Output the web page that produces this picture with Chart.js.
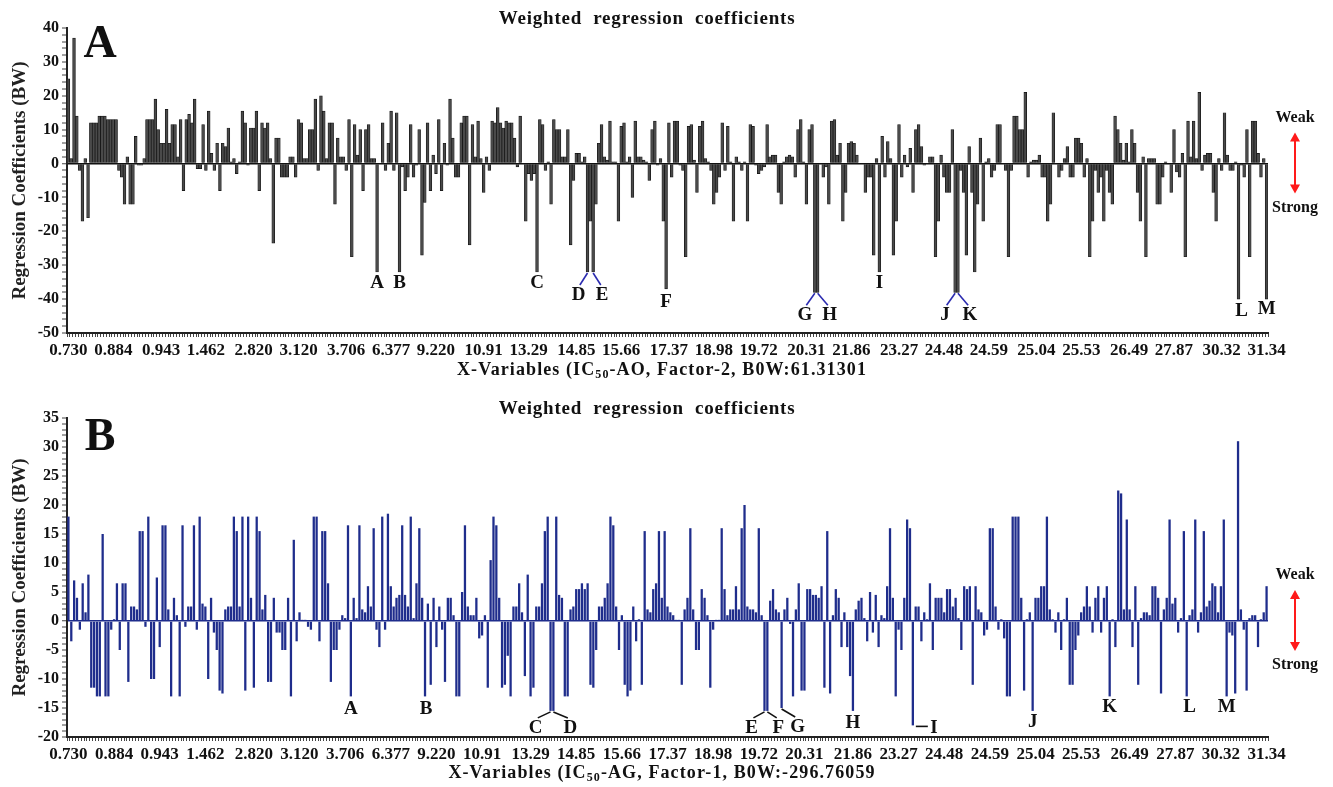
<!DOCTYPE html>
<html>
<head>
<meta charset="utf-8">
<script src="https://cdn.jsdelivr.net/npm/chart.js@4.4.1/dist/chart.umd.min.js"></script>
<style>
    body { margin: 0; background: #fff; }
    #wrapA { position: absolute; left: 0; top: 0; width: 1333px; height: 390px; }
    #wrapB { position: absolute; left: 0; top: 390px; width: 1333px; height: 397px; }
</style>
</head>
<body>
<div id="wrapA"><canvas id="chartA" width="1333" height="390"></canvas></div>
<div id="wrapB"><canvas id="chartB" width="1333" height="397"></canvas></div>
<script>
// x tick labels (same for both panels)
const tickLabels = ['0.730', '0.884', '0.943', '1.462', '2.820', '3.120', '3.706', '6.377', '9.220', '10.91',
    '13.29', '14.85', '15.66', '17.37', '18.98', '19.72', '20.31', '21.86', '23.27', '24.48',
    '24.59', '25.04', '25.53', '26.49', '27.87', '30.32', '31.34'];

// A: IC50-AO, factor 2 (left to right)
const valuesA = [
    25, 1.5, 37, 14, -2, -17, 1.5, -16, 12, 12,
    12, 14, 14, 14, 13, 13, 13, 13, -2, -4,
    -12, 2, -12, -12, 8, -0.5, -0.5, 1.5, 13, 13,
    13, 19, 10, 6, 6, 16, 6, 11.5, 11.5, 2,
    13, -8, 13, 14.5, 12, 19, -1.5, -1.5, 11.5, -2,
    15.5, 3, -2, 6, -8, 6, 5, 10.5, 0.5, 1.5,
    -3, 0.5, 15.5, 12, -0.5, 10.5, 10.5, 15.5, -8, 12,
    10.5, 12, 1.5, -23.5, 7.5, 7.5, -4, -4, -4, 2,
    2, -4, 13, 12, 1.5, 1.5, 10, 10, 19, -2,
    20, 15.5, 1.5, 12, 12, -12, 7.5, 2, 2, -2,
    13, -27.5, 11.5, 2.5, 10, -8, 10, 11.5, 1.5, 1.5,
    -32, 0, 12, -2, 6, 15.5, -2, 15, -32, -1,
    -8, -4, 11.5, -4, -0.5, 10, -27, -11.5, 12, -8,
    2.5, -3, 13, -8, 6, -0.5, 19, 7.5,
    -4, -4, 12, 14, 14, -24, 11.5, 2, 12.5, 1.5,
    -8.5, 2, -2, 12.5, 12, 16.5, 12, 10.5, 12.5, 12,
    12, 7.5, -1, 14, 0, -17, -3, -5, -3, -32,
    13, 11.5, -2, 0.5, -12, 13, 10, 10, 2, 2,
    10, -24, -5, 3, 3, 0.5, 2, -32, -17, -32,
    -12, 6, 11.5, 2, 1, 12.5, 0.5, 0.5, -17, 11,
    12, 0.5, 2, -10, 12.5, 2, 2, 1, 0.5, -5,
    10, 12.5, -0.5, 1.5, -17, -37, 12, -4, 12.5, 12.5,
    -0.5, -2, -27.5, 11, 11.5, 1, -8.5, 11, 12.5, 1.5,
    0.5, -2, -12, -8.5, -4, 12, -2, 11, 0.5, -17,
    2, 0.5, -2, 0.5, -17, 11.5, 11, -0.5, -3, -2,
    -1, 11.5, 2, 2.5, 2.5, -8.5, -12, 0.5, 2, 2.5,
    2, -4, 10, 13, 0.5, -12, 10, 11.5, -38, -38,
    0, -4, -1, -12, 12.5, 13, 2.5, 6, -17, -8.5,
    6, 6.5, 6, 2.5, 0, 0, -8.5, -4, -4, -27,
    1.5, -32, 8, -4, 6.5, 1.5, -27, -17, 11.5,
    -4, 2.5, -1, 4.5, -8.5, 10, 11.5, 5, -0.5, 0,
    2, 2, -27.5, -17, 2.5, -4, -8.5, -8.5, 10, -38,
    -38, -2, -8.5, -27, 5, -8.5, -32, -12, 7.5, -17,
    0.5, 1.5, -4, -2, 11.5, 11.5, 0, -2, -27.5, -2,
    14, 14, 10, 10, 21, -4, 0.5, 1, 1, 2.5,
    -4, -4, -17, -12, 15, 0, -4, -2, 1.5, 5,
    -4, -4, 7.5, 7.5, 6, -4, 1.5, -27.5, -17, -2,
    -8.5, -4, -17, -2, -8.5, -12, 14, 10, 6, 1,
    6, 0.5, 10, 6, -8.5, -17, 2, -27.5, 1.5, 1.5,
    1.5, -12, -12, -4, 0.5, 0, -8.5, 10, -2.5, -4,
    3, -27.5, 12.5, 2, 12.5, 1.5, 21, -2, 2.5, 3,
    3, -8.5, -17, 1.5, -2, 15, 2.5, -2, -2, 0.5,
    -40, -0.5, -4, 10, -27.5, 12.5, 12.5, 3, -4, 1.5,
    -40
];

// B: IC50-AG, factor 1
const valuesB = [
    18, -3.5, 7, 4, -1.5, 6.5, 1.5, 8, -11.5, -11.5,
    -13, -13, 15, -13, -13, -1.5, 0.3, 6.5, -5, 6.5,
    6.5, -10.5, 2.5, 2.5, 2, 15.5, 15.5, -1, 18, -10,
    -10, 7.5, -4.5, 16.5, 16.5, 2, -13, 4, 1, -13,
    16.5, -1, 2.5, 2.5, 16.5, -1.5, 18, 3, 2.5, -10,
    4, -2, -5, -12, -12.5, 2, 2.5, 2.5, 18, 15.5,
    2.5, 18, -12, 18, 4, -11.5, 18, 15.5, 2, 4.5,
    -10.5, -10.5, 4, -2, -2, -5, -5, 4, -13, 14,
    -3.5, 1.5, 0.2, 0.2, -1, -1.5, 18, 18, -3.5, 15.5,
    15.5, 6.5, -10.5, -5, -5, -1.5, 1, 0.5, 16.5, -13,
    4, 0.5, 16.5, 2, 1.5, 6, 2.5, 16, -1.5, -4.5,
    18, -1.5, 18.5, 6, 2.5, 4, 4.5, 16.5, 4.5, 2.5,
    18, 0.5, 6.5, 16, 4, -13, 3, -11, 4, -4.5,
    2.5, -1.5, -10.5,
    4, 4, 1, -13, -13, 5, 16.5, 2.5, 1, 1,
    4, -3, -2.5, 1, -11.5, 10.5, 18, 16.5, 4, -11.5,
    -11, -6, -13, 2.5, 2.5, 6.5, 1.5, -9.5, 8, -13,
    -11.5, 2.5, 2.5, 6.5, 15.5, 18, -15.5, -15.5, 18, 4.5,
    4, -13, -13, 2, 2.5, 5.5, 5.5, 6.5, 5.5, 6.5,
    -11, -11.5, -5, 2.5, 2.5, 4, 6.5, 18, 16.5, 2.5,
    -5, 1, -11, -13, -12, 2.5, -3.5, 0.3, -11, 15.5,
    2, 1.5, 5.5, 6.5, 15.5, 4, 15.5, 2.5, 1.5, 1,
    0.2, 0.2, -11, 2, 4, 16, 2, -5, -5, 5.5,
    4, 1, -11.5, -1.5, 0.2, 0.2, 16, 5.5, 1, 2,
    2, 6, 2, 16, 20, 2.5, 2, 2, 1.5, 16,
    1, -15.5, -15.5, 3.5, 5.5, 2, 1.5, -15, 2, 4,
    -0.5, -13, 2, 6.5, -12, -12, 5.5, 5.5, 4.5, 4.5,
    4, 6, -11.5, 15.5, -12.5, 1, 5.5, 4, -4.5, 1.5,
    -4.5, -9.5, -15.5, 2, 3.5, 4, 0.5, -3.5, 5, -2,
    4.5, -4.5, 1, 0.5, 6, 16,
    4, -13, -1.5, -5, 4, 17.5, 16, -18, 2.5, 2.5,
    -3.5, 1.5, 0.3, 6.5, -5, 4, 4, 4, 1.5, 5.5,
    5.5, 2.5, 4, 0.5, -5, 6, 5.5, 6, -11, 6,
    2, 1.5, -2.5, -1.5, 16, 16, 2.5, -1.5, 0.3, -3,
    -13, -13, 18, 18, 18, 4, -12, 0.3, 1.5, -15.5,
    4, 4, 6, 6, 18, 2, 0.3, -2, 1.5, -5,
    0.3, 4, -11, -11, -5, -2.5, 1.5, 2.5, 6, 2.5,
    -2, 4, 6, -2, 4, 6, -13, 0.3, -4.5, 22.5,
    22, 2, 17.5, 2, -4.5, 6, -11, 0.5, 1.5, 1.5,
    1, 6, 6, 4, -12.5, 2, 4, 17.5, 3, 4,
    -2, 0.5, 15.5, -13, 1, 2, 17.5, -2, 1.5, 15.5,
    2.5, 3.5, 6.5, 6, 1.5, 6, 17.5, -13, -2, -2.5,
    -12.5, 31, 2, -1.5, -12, 0.5, 1, 1, -4.5, 0.3,
    1.5, 6
];

// labelled variables: [letter, bar index]
const marksA = [['A', 110], ['B', 118], ['C', 167], ['D', 185], ['E', 187], ['F', 213], ['G', 266],
    ['H', 267], ['I', 289], ['J', 316], ['K', 317], ['L', 417], ['M', 427]];
const marksB = [['A', 99], ['B', 125], ['C', 169], ['D', 170], ['E', 244], ['F', 245], ['G', 250],
    ['H', 275], ['I', 296], ['J', 338], ['K', 365], ['L', 392], ['M', 406]];

// where each letter sits relative to its bar tip: [dx, dy, connector]
const markPosA = { A: [0, 11], B: [0, 11], C: [0, 11], D: [-9, 23, 1], E: [9, 23, 1], F: [0, 13],
    G: [-10, 23, 1], H: [12, 23, 1], I: [0, 11], J: [-10, 23, 1], K: [12, 23, 1], L: [3, 12], M: [0, 10] };
const markPosB = { A: [0, 13], B: [1, 13], C: [-15, 17, 1], D: [17, 17, 1], E: [-13, 17, 1], F: [11, 17, 1],
    G: [16, 19, 1], H: [0, 12], I: [21, 3, 2], J: [0, 11], K: [0, 11], L: [3, 11], M: [0, 11] };

const SERIF = '"Liberation Serif", "Times New Roman", serif';

function buildLabels(n) {
    let labels = new Array(n).fill('');
    tickLabels.forEach(function (t, j) {
        labels[Math.round(j * (n - 1) / (tickLabels.length - 1))] = t;
    });
    return labels;
}

function overlay(cfg) {
    return {
        id: 'overlay' + cfg.panel,
        afterDraw: function (chart) {
            const ctx = chart.ctx;
            const xs = chart.scales.x, ys = chart.scales.y;
            const area = chart.chartArea;
            const zeroY = ys.getPixelForValue(0);
            ctx.save();
            ctx.fillStyle = '#111';
            ctx.textAlign = 'center';
            ctx.textBaseline = 'middle';

            // title
            ctx.font = 'bold 19px ' + SERIF;
            ctx.letterSpacing = '0.8px';
            ctx.fillText('Weighted  regression  coefficients', 647, area.top - 9);

            // panel letter
            ctx.letterSpacing = '0px';
            ctx.font = 'bold 46px ' + SERIF;
            ctx.fillText(cfg.panel, 100, area.top + cfg.letterDy);

            // x axis title with subscript
            const yT = area.bottom + cfg.xTitleDy;
            ctx.letterSpacing = '1.1px';
            ctx.font = 'bold 18px ' + SERIF;
            const w1 = ctx.measureText(cfg.xTitle[0]).width;
            const w3 = ctx.measureText(cfg.xTitle[2]).width;
            ctx.font = 'bold 12px ' + SERIF;
            const w2 = ctx.measureText(cfg.xTitle[1]).width;
            let x0 = 662 - (w1 + w2 + w3) / 2;
            ctx.textAlign = 'left';
            ctx.font = 'bold 18px ' + SERIF;
            ctx.fillText(cfg.xTitle[0], x0, yT);
            ctx.font = 'bold 12px ' + SERIF;
            ctx.fillText(cfg.xTitle[1], x0 + w1, yT + 5);
            ctx.font = 'bold 18px ' + SERIF;
            ctx.fillText(cfg.xTitle[2], x0 + w1 + w2, yT);
            ctx.letterSpacing = '0px';

            // weak / strong with red arrow
            ctx.textAlign = 'center';
            ctx.font = 'bold 16px ' + SERIF;
            ctx.fillText('Weak', 1295, zeroY - 46);
            ctx.fillText('Strong', 1295, zeroY + 44);
            const ax = 1295, a1 = zeroY - 31, a2 = zeroY + 30;
            ctx.strokeStyle = '#ff1a1a';
            ctx.fillStyle = '#ff1a1a';
            ctx.lineWidth = 2;
            ctx.beginPath();
            ctx.moveTo(ax, a1 + 6);
            ctx.lineTo(ax, a2 - 6);
            ctx.stroke();
            ctx.beginPath();
            ctx.moveTo(ax, a1); ctx.lineTo(ax - 5, a1 + 9); ctx.lineTo(ax + 5, a1 + 9); ctx.closePath();
            ctx.moveTo(ax, a2); ctx.lineTo(ax - 5, a2 - 9); ctx.lineTo(ax + 5, a2 - 9); ctx.closePath();
            ctx.fill();

            // letters under the strongest bars
            ctx.font = 'bold 19px ' + SERIF;
            ctx.lineWidth = 1.6;
            cfg.marks.forEach(function (m) {
                const pos = cfg.pos[m[0]];
                const bx = xs.getPixelForValue(m[1]);
                const by = ys.getPixelForValue(cfg.values[m[1]]);
                const lx = bx + pos[0], ly = by + pos[1];
                ctx.strokeStyle = cfg.lineColor;
                if (pos[2] === 1) {
                    ctx.beginPath();
                    ctx.moveTo(bx, by + 1);
                    ctx.lineTo(bx + pos[0] * 0.85, ly - 10);
                    ctx.stroke();
                } else if (pos[2] === 2) {
                    ctx.beginPath();
                    ctx.moveTo(bx + 3, by + 1);
                    ctx.lineTo(lx - 6, by + 1);
                    ctx.stroke();
                }
                ctx.fillStyle = '#111';
                ctx.fillText(m[0], lx, ly);
            });
            ctx.restore();
        }
    };
}

function makeChart(id, cfg) {
    const labels = buildLabels(cfg.values.length);
    return new Chart(document.getElementById(id), {
        type: 'bar',
        data: {
            labels: labels,
            datasets: [{
                data: cfg.values,
                backgroundColor: cfg.barColor,
                borderColor: cfg.barBorder,
                borderWidth: cfg.borderWidth,
                barPercentage: cfg.barPct,
                categoryPercentage: 1
            }]
        },
        options: {
            responsive: false,
            devicePixelRatio: 1,
            animation: false,
            layout: { padding: { top: 28, right: 65, bottom: 0, left: 0 } },
            plugins: { legend: { display: false }, tooltip: { enabled: false } },
            scales: {
                x: {
                    grid: { drawOnChartArea: false, tickLength: 4, tickColor: '#444', tickWidth: 1 },
                    border: { color: '#222', width: 2 },
                    ticks: {
                        autoSkip: false, maxRotation: 0, minRotation: 0, padding: 3, color: '#111',
                        font: { family: SERIF, size: 17, weight: 'bold' }
                    },
                    afterFit: function (s) { s.height = cfg.xHeight; }
                },
                y: {
                    min: cfg.yMin, max: cfg.yMax,
                    grid: {
                        color: function (c) { return c.tick && c.tick.value === 0 ? cfg.zeroColor : 'rgba(0,0,0,0)'; },
                        lineWidth: function (c) { return c.tick && c.tick.value === 0 ? 1.5 : 0; },
                        tickLength: 5, tickColor: '#444', tickWidth: 1
                    },
                    border: { color: '#222', width: 2 },
                    ticks: {
                        stepSize: cfg.yMinor, autoSkip: false, padding: 3, color: '#111',
                        font: { family: SERIF, size: 16, weight: 'bold' },
                        callback: function (v) { return v % cfg.yMajor === 0 ? v : ''; }
                    },
                    title: {
                        display: true, text: 'Regression Coefficients (BW)', color: '#222',
                        font: { family: SERIF, size: 19, weight: 'bold' },
                        padding: { top: 9, bottom: 0 }
                    },
                    afterFit: function (s) { s.width = 67; }
                }
            }
        },
        plugins: [overlay(cfg)]
    });
}

makeChart('chartA', {
    panel: 'A', values: valuesA, marks: marksA, pos: markPosA,
    barColor: '#4a4a4a', barBorder: '#111', borderWidth: 0.7, barPct: 1,
    zeroColor: '#111', lineColor: '#2b2bb0',
    yMin: -50, yMax: 40, yMinor: 2, yMajor: 10,
    xHeight: 57, xTitleDy: 37, letterDy: 17,
    xTitle: ['X-Variables (IC', '50', '-AO, Factor-2, B0W:61.31301']
});

makeChart('chartB', {
    panel: 'B', values: valuesB, marks: marksB, pos: markPosB,
    barColor: '#1f2d8c', barBorder: '#1f2d8c', borderWidth: 0, barPct: 0.8,
    zeroColor: '#1f2d8c', lineColor: '#111',
    yMin: -20, yMax: 35, yMinor: 1, yMajor: 5,
    xHeight: 50, xTitleDy: 36, letterDy: 20,
    xTitle: ['X-Variables (IC', '50', '-AG, Factor-1, B0W:-296.76059']
});
</script>
</body>
</html>
